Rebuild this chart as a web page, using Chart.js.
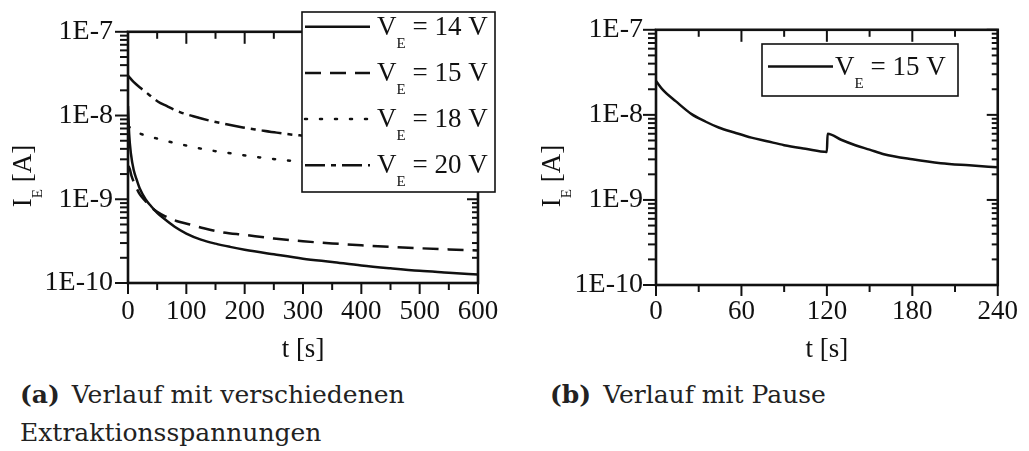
<!DOCTYPE html>
<html>
<head>
<meta charset="utf-8">
<script src="https://cdn.jsdelivr.net/npm/chart.js@4.4.1/dist/chart.umd.min.js"></script>
<style>
  html, body { margin: 0; padding: 0; background: #fff; width: 1029px; height: 451px; overflow: hidden; }
  body { position: relative; }
  canvas { position: absolute; top: 0; }
  #chartA { left: 0; }
  #chartB { left: 515px; }
  .cap { position: absolute; font-family: "DejaVu Serif", serif; font-size: 25px; line-height: 37.5px; color: #222; white-space: nowrap; }
  .cap b { margin-right: 12px; }
</style>
</head>
<body>
<canvas id="chartA" width="515" height="370"></canvas>
<canvas id="chartB" width="514" height="370"></canvas>
<div class="cap" style="left:20px; top:376px;"><b>(a)</b>Verlauf mit verschiedenen<br>Extraktionsspannungen</div>
<div class="cap" style="left:550px; top:376px;"><b>(b)</b>Verlauf mit Pause</div>

<script>
// ---- (a) emission current for several extraction voltages ----
const voltagesA = [14, 15, 18, 20];

const t14 = [0, 2, 5, 10, 15, 20, 30, 40, 50, 60, 80, 100, 125, 150, 175, 200, 250, 300, 350, 400, 450, 500, 550, 600];
const i14 = [1.3e-8, 6e-9, 3.5e-9, 2.2e-9, 1.7e-9, 1.35e-9, 1.0e-9, 8.2e-10, 6.9e-10, 6.0e-10, 4.7e-10, 3.9e-10,
             3.3e-10, 2.95e-10, 2.7e-10, 2.5e-10, 2.2e-10, 1.95e-10, 1.78e-10, 1.62e-10, 1.5e-10, 1.4e-10, 1.33e-10, 1.26e-10];

const t15 = [1, 3, 6, 12, 20, 30, 40, 50, 63, 83, 106, 130, 160, 200, 250, 300, 350, 400, 450, 500, 550, 600];
const i15 = [2.5e-9, 2.3e-9, 1.9e-9, 1.5e-9, 1.15e-9, 9.5e-10, 8.0e-10, 7.1e-10, 6.3e-10, 5.5e-10, 5.0e-10, 4.5e-10,
             4.05e-10, 3.75e-10, 3.4e-10, 3.15e-10, 2.97e-10, 2.82e-10, 2.7e-10, 2.6e-10, 2.52e-10, 2.45e-10];

const t18 = [0, 10, 26, 55, 83, 112, 140, 169, 197, 226, 255, 283, 350, 450, 600];
const i18 = [7.5e-9, 6.6e-9, 5.9e-9, 5.2e-9, 4.65e-9, 4.2e-9, 3.85e-9, 3.6e-9, 3.36e-9, 3.16e-9, 3.0e-9, 2.86e-9,
             2.6e-9, 2.3e-9, 2.0e-9];

const t20 = [0, 10, 21, 35, 51, 66, 89, 112, 140, 169, 197, 226, 255, 283, 300, 400, 500, 600];
const i20 = [3.0e-8, 2.5e-8, 2.15e-8, 1.8e-8, 1.47e-8, 1.3e-8, 1.1e-8, 9.8e-9, 8.7e-9, 7.85e-9, 7.2e-9, 6.7e-9,
             6.25e-9, 5.9e-9, 5.75e-9, 4.9e-9, 4.3e-9, 3.9e-9];

// ---- (b) emission current at 15 V with a pause at 120 s ----
const voltageB = 15;
const tPause = [0, 5, 14, 25, 35, 44, 55, 67, 78, 90, 105, 120, 120.5, 130, 140, 150, 160, 180, 200, 220, 240];
const iPause = [2.5e-8, 1.95e-8, 1.44e-8, 1.02e-8, 8.3e-9, 7.1e-9, 6.2e-9, 5.4e-9, 4.9e-9, 4.4e-9, 4.0e-9, 3.67e-9,
                6.0e-9, 5.1e-9, 4.4e-9, 3.9e-9, 3.45e-9, 3.0e-9, 2.7e-9, 2.55e-9, 2.42e-9];

// ---- axis ticks ----
const yExponents = [-10, -9, -8, -7];
const yMantissas = [1, 2, 3, 4, 5, 6, 7, 8, 9];
const xTicksA = [0, 50, 100, 150, 200, 250, 300, 350, 400, 450, 500, 550, 600];
const xLabelStepA = 100;
const xTicksB = [0, 30, 60, 90, 120, 150, 180, 210, 240];
const xLabelStepB = 60;

const INK = '#111';
const SERIF = '"Liberation Serif", "Times New Roman", serif';
Chart.defaults.color = INK;
Chart.defaults.font.family = SERIF;

const pts = (ts, vs) => ts.map((t, k) => ({ x: t, y: vs[k] }));
const seriesLabel = v => 'V_E = ' + v + ' V';

function logTicks() {
  const out = [];
  yExponents.forEach((e, k) => {
    const ms = k === yExponents.length - 1 ? [1] : yMantissas;
    ms.forEach(m => out.push({ value: m * Math.pow(10, e), isMajor: m === 1, exp: e }));
  });
  return out;
}

function lineDs(label, data, dash, cap) {
  return {
    label, data,
    borderColor: INK, borderWidth: 2.5, borderDash: dash, borderCapStyle: cap || 'butt',
    pointRadius: 0, fill: false, cubicInterpolationMode: 'monotone'
  };
}

// frame, tick marks, axis titles and the legend box with subscripts
const framePlugin = {
  id: 'frame',
  afterDatasetsDraw(chart, args, opts) {
    const { ctx, chartArea: { left, right, top, bottom }, scales: { x, y } } = chart;
    const seg = (x1, y1, x2, y2) => { ctx.beginPath(); ctx.moveTo(x1, y1); ctx.lineTo(x2, y2); ctx.stroke(); };
    ctx.save();
    ctx.strokeStyle = INK;
    ctx.lineCap = 'butt';
    ctx.lineWidth = 2;
    x.ticks.forEach(t => {
      const px = x.getPixelForValue(t.value);
      seg(px, bottom, px, bottom + (t.isMajor ? 11 : 7));
      seg(px, top, px, top + (t.isMajor ? 12 : 7));
    });
    y.ticks.forEach(t => {
      const py = y.getPixelForValue(t.value);
      seg(left - (t.isMajor ? 13 : 8), py, left, py);
      seg(right - (t.isMajor ? 11 : 6), py, right, py);
    });
    ctx.lineWidth = 2.6;
    ctx.strokeRect(left, top, right - left, bottom - top);

    ctx.fillStyle = INK;
    ctx.textBaseline = 'alphabetic';
    // x axis title
    ctx.font = '27px ' + SERIF;
    ctx.textAlign = 'center';
    ctx.fillText('t [s]', (left + right) / 2, opts.xTitleY);

    // y axis title I_E [A], rotated
    ctx.save();
    ctx.translate(opts.yTitle.x, opts.yTitle.y);
    ctx.rotate(-Math.PI / 2);
    ctx.textAlign = 'left';
    const big = '27px ' + SERIF, small = '15px ' + SERIF;
    ctx.font = big; const wI = ctx.measureText('I').width; const wR = ctx.measureText(' [A]').width;
    ctx.font = small; const wE = ctx.measureText('E').width;
    let cx = -(wI + wE + wR) / 2;
    ctx.font = big; ctx.fillText('I', cx, 0); cx += wI;
    ctx.font = small; ctx.fillText('E', cx, 11); cx += wE;
    ctx.font = big; ctx.fillText(' [A]', cx, 0);
    ctx.restore();

    // legend
    const lg = opts.legend;
    ctx.fillStyle = '#fff';
    ctx.fillRect(lg.x, lg.y, lg.w, lg.h);
    ctx.lineWidth = 1.6;
    ctx.strokeStyle = INK;
    ctx.strokeRect(lg.x, lg.y, lg.w, lg.h);
    chart.data.datasets.forEach((ds, k) => {
      const ly = lg.y0 + k * lg.dy;
      ctx.setLineDash(ds.borderDash || []);
      ctx.lineCap = ds.borderCapStyle || 'butt';
      ctx.lineWidth = ds.borderWidth;
      seg(lg.sx0, ly, lg.sx1, ly);
      ctx.setLineDash([]);
      ctx.lineCap = 'butt';
      const [main, rest] = ds.label.split('_');
      const by = ly + 8;
      let tx = lg.tx;
      ctx.fillStyle = INK;
      ctx.textAlign = 'left';
      ctx.font = big; ctx.fillText(main, tx, by); tx += ctx.measureText(main).width;
      ctx.font = small; ctx.fillText(rest[0], tx, by + 13); tx += ctx.measureText(rest[0]).width;
      ctx.font = big; ctx.fillText(rest.slice(1), tx, by);
    });
    ctx.restore();
  }
};

function makeChart(id, datasets, xMax, xTicks, xStep, layout, frameOpts) {
  return new Chart(document.getElementById(id), {
    type: 'line',
    data: { datasets },
    options: {
      responsive: false,
      animation: false,
      events: [],
      layout: { padding: layout.padding },
      plugins: { legend: { display: false }, tooltip: { enabled: false }, frame: frameOpts },
      scales: {
        x: {
          type: 'linear', min: 0, max: xMax,
          grid: { display: false, drawTicks: false },
          border: { display: false },
          afterBuildTicks: s => { s.ticks = xTicks.map(v => ({ value: v, isMajor: v % xStep === 0 })); },
          afterFit: s => { s.height = layout.xAxisHeight; },
          ticks: {
            autoSkip: false, maxRotation: 0, padding: layout.xPad,
            font: { size: 27, family: SERIF }, color: INK,
            callback: (v, i, ticks) => ticks[i].isMajor ? String(v) : ''
          }
        },
        y: {
          type: 'logarithmic', min: 1e-10, max: 1e-7,
          grid: { display: false, drawTicks: false },
          border: { display: false },
          afterBuildTicks: s => { s.ticks = logTicks(); },
          afterFit: s => { s.width = layout.yAxisWidth; },
          ticks: {
            autoSkip: false, padding: layout.yPad,
            font: { size: 28, family: SERIF }, color: INK,
            callback: (v, i, ticks) => ticks[i].isMajor ? '1E' + ticks[i].exp : ''
          }
        }
      }
    },
    plugins: [framePlugin]
  });
}

makeChart('chartA',
  [
    lineDs(seriesLabel(voltagesA[0]), pts(t14, i14), []),
    lineDs(seriesLabel(voltagesA[1]), pts(t15, i15), [16, 9]),
    lineDs(seriesLabel(voltagesA[2]), pts(t18, i18), [2, 13], 'round'),
    lineDs(seriesLabel(voltagesA[3]), pts(t20, i20), [20, 6, 5, 6])
  ],
  600, xTicksA, xLabelStepA,
  { padding: { left: 0, top: 25, right: 37, bottom: 47 }, xAxisHeight: 40, yAxisWidth: 128, xPad: 13, yPad: 15 },
  { xTitleY: 357, yTitle: { x: 31, y: 176 },
    legend: { x: 302, y: 12, w: 193, h: 180, y0: 26.7, dy: 46.2, sx0: 305, sx1: 370, tx: 377 } }
);

makeChart('chartB',
  [ lineDs(seriesLabel(voltageB), pts(tPause, iPause), []) ],
  240, xTicksB, xLabelStepB,
  { padding: { left: 0, top: 28, right: 25, bottom: 45 }, xAxisHeight: 40, yAxisWidth: 141, xPad: 11, yPad: 13 },
  { xTitleY: 357, yTitle: { x: 45, y: 176 },
    legend: { x: 247, y: 44, w: 196, h: 52, y0: 66.5, dy: 0, sx0: 253, sx1: 318, tx: 320 } }
);
</script>
</body>
</html>
